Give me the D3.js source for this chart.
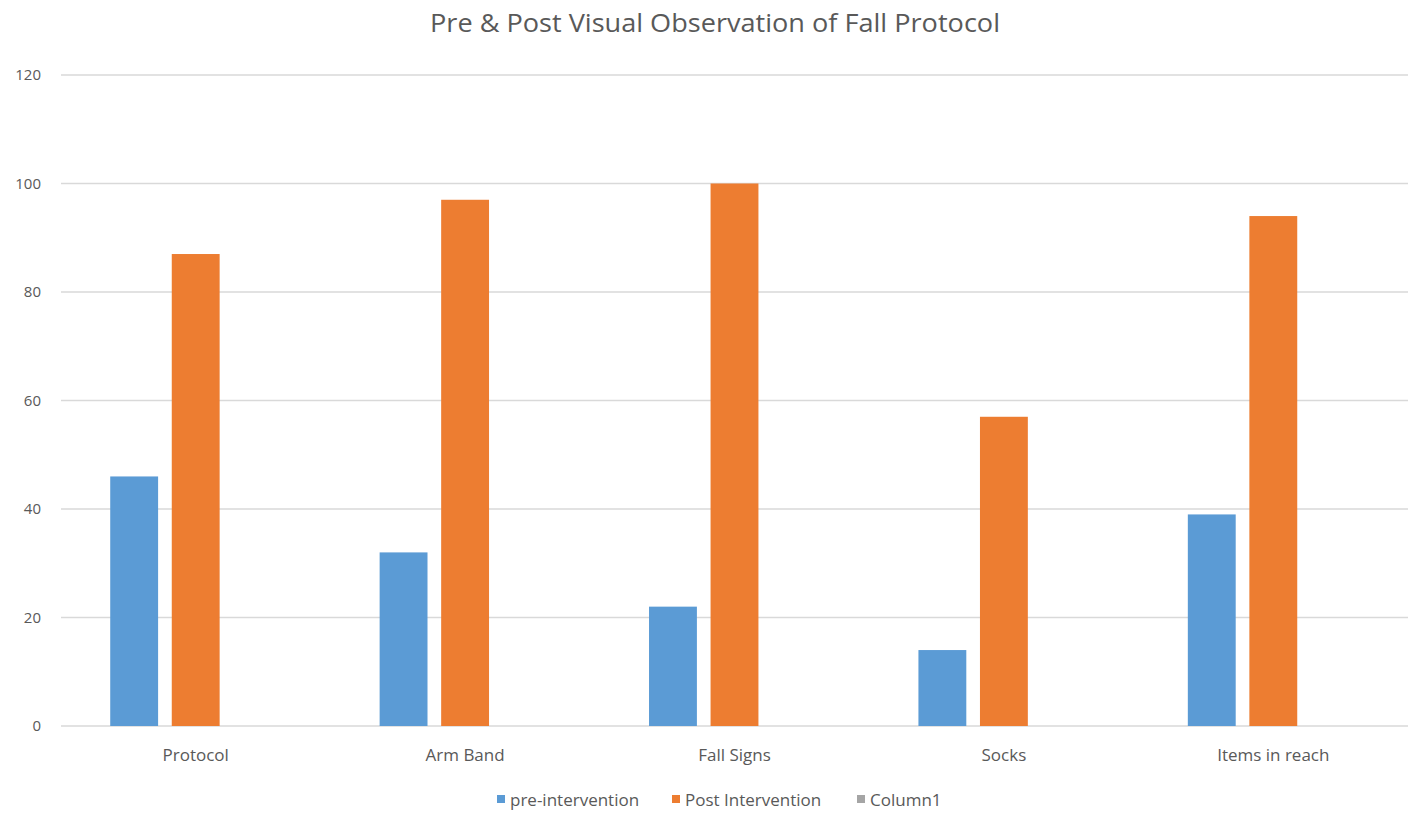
<!DOCTYPE html>
<html>
<head>
<meta charset="utf-8">
<script src="https://cdn.jsdelivr.net/npm/d3@7"></script>
<style>
  body { margin: 0; background: #fff; }
  text { font-family: "Open Sans", "Noto Sans", sans-serif; fill: #595959; }
</style>
</head>
<body>
<div id="chart"></div>
<script>
// chart data
const categories = ['Protocol', 'Arm Band', 'Fall Signs', 'Socks', 'Items in reach']
const seriesNames = ['pre-intervention', 'Post Intervention', 'Column1']
const preValues = [46, 32, 22, 14, 39]
const postValues = [87, 97, 100, 57, 94]
const column1Values = [null, null, null, null, null]
const yTicks = [0, 20, 40, 60, 80, 100, 120]

const colors = ['#5b9bd5', '#ed7d31', '#a5a5a5']

const width = 1417, height = 816
const margin = { top: 75, right: 9, bottom: 90, left: 61 }

const svg = d3.select('#chart').append('svg')
    .attr('width', width)
    .attr('height', height)

// title
svg.append('text')
    .attr('x', 715)
    .attr('y', 32)
    .attr('text-anchor', 'middle')
    .style('font-size', '26px')
    .attr('textLength', 570)
    .attr('lengthAdjust', 'spacingAndGlyphs')
    .text('Pre & Post Visual Observation of Fall Protocol')

const x0 = d3.scaleBand()
    .domain(categories)
    .range([margin.left, width - margin.right])

const x1 = d3.scaleBand()
    .domain(seriesNames)
    .range([0, x0.bandwidth()])
    .paddingInner(0.222)
    .paddingOuter(0.8)

const y = d3.scaleLinear()
    .domain([0, 120])
    .range([height - margin.bottom, margin.top])

// gridlines
svg.append('g')
    .selectAll('line')
    .data(yTicks)
    .join('line')
    .attr('x1', margin.left)
    .attr('x2', width - margin.right)
    .attr('y1', d => y(d))
    .attr('y2', d => y(d))
    .attr('stroke', '#d9d9d9')
    .attr('stroke-width', 1.5)

// y tick labels
svg.append('g')
    .selectAll('text')
    .data(yTicks)
    .join('text')
    .attr('x', 41)
    .attr('y', d => y(d))
    .attr('dy', '0.35em')
    .attr('text-anchor', 'end')
    .style('font-size', '15px')
    .text(d => d)

// bars
const table = categories.map((c, i) => ({
    category: c,
    values: [preValues[i], postValues[i], column1Values[i]]
}))

const groups = svg.append('g')
    .selectAll('g')
    .data(table)
    .join('g')
    .attr('transform', d => 'translate(' + x0(d.category) + ',0)')

groups.selectAll('rect')
    .data(d => d.values.map((v, j) => ({ name: seriesNames[j], value: v, j: j })).filter(d => d.value != null))
    .join('rect')
    .attr('x', d => x1(d.name))
    .attr('width', x1.bandwidth())
    .attr('y', d => y(d.value))
    .attr('height', d => y(0) - y(d.value))
    .attr('fill', d => colors[d.j])

// category labels
svg.append('g')
    .selectAll('text')
    .data(categories)
    .join('text')
    .attr('x', d => x0(d) + x0.bandwidth() / 2)
    .attr('y', 761)
    .attr('text-anchor', 'middle')
    .style('font-size', '17px')
    .text(d => d)

// legend
const legendX = [497, 672, 857]
const legend = svg.append('g')
    .selectAll('g')
    .data(seriesNames)
    .join('g')
    .attr('transform', (d, i) => 'translate(' + legendX[i] + ',803)')

legend.append('rect')
    .attr('x', 0)
    .attr('y', -8)
    .attr('width', 8)
    .attr('height', 8)
    .attr('fill', (d, i) => colors[i])

legend.append('text')
    .attr('x', 13)
    .attr('y', 0)
    .attr('dy', '0.15em')
    .style('font-size', '17px')
    .text(d => d)
</script>
</body>
</html>
